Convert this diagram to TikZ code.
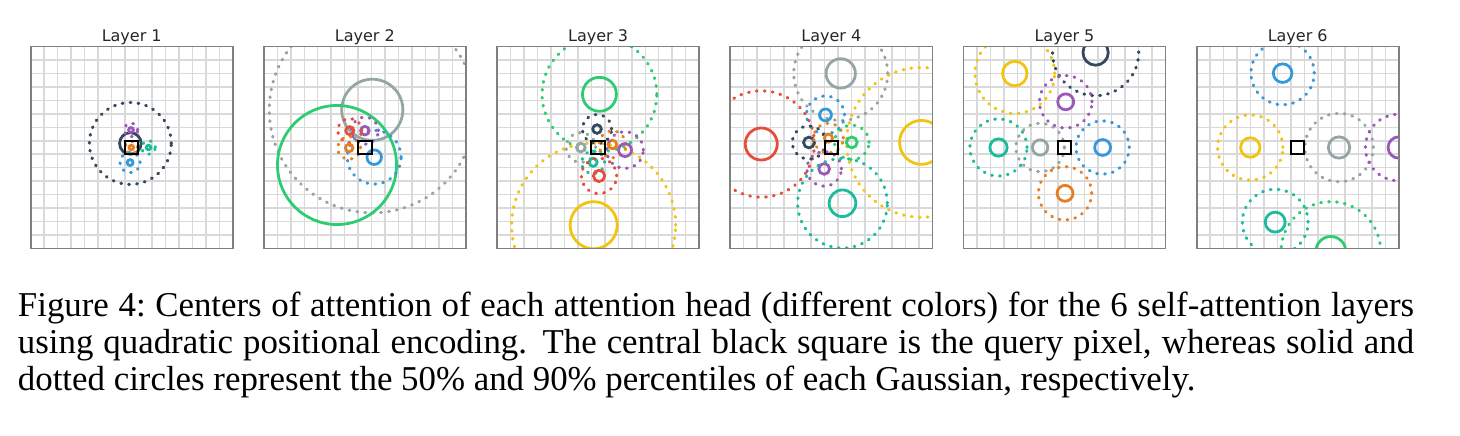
\documentclass[tikz,border=0pt]{standalone}
\usepackage{fontspec}
\setmainfont{Liberation Serif}
\newfontfamily\ttlfont{DejaVu Sans}
\definecolor{cteal}{HTML}{1ABC9C}
\definecolor{cgreen}{HTML}{2ECC71}
\definecolor{cblue}{HTML}{3498DB}
\definecolor{cpurple}{HTML}{9B59B6}
\definecolor{cnavy}{HTML}{34495E}
\definecolor{cyellow}{HTML}{F1C40F}
\definecolor{corange}{HTML}{E67E22}
\definecolor{cred}{HTML}{E74C3C}
\definecolor{cgray}{HTML}{95A5A6}
\tikzset{
  pxsol/.style={line width=0.85pt},
  pxdot/.style={line width=0.95pt, line cap=round, dash pattern=on 0.25pt off 2.18pt},
  gridln/.style={draw=black!15, line width=0.45pt},
  panelframe/.style={draw=black!50, line width=0.5pt},
  querybox/.style={draw=black, line width=0.6pt},
  ttl/.style={font=\ttlfont\fontsize{4.88}{6}\selectfont, text=black!85, inner sep=0pt, anchor=base},
  captxt/.style={font=\fontsize{10.63}{12.7}\selectfont, inner sep=0pt, anchor=base west},
}
\newcommand\gausshead[5]{%
  \draw[pxsol,#1] (#2,#3) circle[radius=#4];
  \draw[pxdot,#1] (#2,#3) circle[radius=#5];}
\newcommand\panelgrid{%
  \foreach \k in {-6.5,-5.5,...,6.5}{%
    \draw[gridln] (\k,-7.5) -- (\k,7.5);
    \draw[gridln] (-7.5,\k) -- (7.5,\k);}}
\begin{document}
\begin{tikzpicture}[x=0.305pt, y=-0.305pt]
\useasboundingbox (0,0) rectangle (1460,436);
% ---------- Layer 1
\begin{scope}[shift={(131.7,147.5)}, x=4.108pt, y=4.108pt]
  \node[ttl] (title1) at (0,7.87) {Layer 1};
  \begin{scope}
    \clip (-7.5,-7.5) rectangle (7.5,7.5);
    \panelgrid
    \gausshead{cnavy}{-0.1}{0.3}{0.8}{3.04}
    \gausshead{cpurple}{-0.05}{1.3}{0.18}{0.5}
    \gausshead{corange}{-0.03}{0.0}{0.17}{0.45}
    \gausshead{cteal}{1.25}{0.0}{0.17}{0.5}
    \gausshead{cblue}{-0.12}{-1.12}{0.22}{0.75}
  \end{scope}
  \draw[querybox] (-0.5,-0.5) rectangle (0.5,0.5);
  \draw[panelframe] (-7.5,-7.5) rectangle (7.5,7.5);
\end{scope}
% ---------- Layer 2
\begin{scope}[shift={(364.9,147.5)}, x=4.108pt, y=4.108pt]
  \node[ttl] (title2) at (0,7.87) {Layer 2};
  \begin{scope}
    \clip (-7.5,-7.5) rectangle (7.5,7.5);
    \panelgrid
    \gausshead{cgray}{0.55}{2.8}{2.27}{7.65}
    \draw[pxsol,cgreen] (-2.07,-1.3) circle[radius=4.42];
    \gausshead{cblue}{0.69}{-0.72}{0.54}{2.0}
    \gausshead{cpurple}{0.0}{1.25}{0.32}{1.0}
    \gausshead{cred}{-1.12}{1.25}{0.3}{0.9}
    \gausshead{corange}{-1.17}{-0.03}{0.28}{0.85}
  \end{scope}
  \draw[querybox] (-0.5,-0.5) rectangle (0.5,0.5);
  \draw[panelframe] (-7.5,-7.5) rectangle (7.5,7.5);
\end{scope}
% ---------- Layer 3
\begin{scope}[shift={(598.1,147.5)}, x=4.108pt, y=4.108pt]
  \node[ttl] (title3) at (0,7.87) {Layer 3};
  \begin{scope}
    \clip (-7.5,-7.5) rectangle (7.5,7.5);
    \panelgrid
    \gausshead{cgreen}{0.1}{3.95}{1.26}{4.26}
    \gausshead{cyellow}{-0.33}{-5.77}{1.75}{6.09}
    \gausshead{cnavy}{-0.08}{1.37}{0.32}{1.08}
    \gausshead{cgray}{-1.28}{0.0}{0.32}{1.1}
    \gausshead{corange}{1.06}{0.23}{0.32}{1.0}
    \gausshead{cpurple}{2.0}{-0.19}{0.48}{1.36}
    \gausshead{cteal}{-0.37}{-1.1}{0.3}{0.85}
    \gausshead{cred}{0.07}{-2.11}{0.42}{1.31}
  \end{scope}
  \draw[querybox] (-0.5,-0.5) rectangle (0.5,0.5);
  \draw[panelframe] (-7.5,-7.5) rectangle (7.5,7.5);
\end{scope}
% ---------- Layer 4
\begin{scope}[shift={(831.3,147.5)}, x=4.108pt, y=4.108pt]
  \node[ttl] (title4) at (0,7.87) {Layer 4};
  \begin{scope}
    \clip (-7.5,-7.5) rectangle (7.5,7.5);
    \panelgrid
    \gausshead{cgray}{0.7}{5.5}{1.09}{3.49}
    \gausshead{cred}{-5.2}{0.26}{1.19}{3.95}
    \gausshead{cyellow}{6.7}{0.38}{1.63}{5.56}
    \gausshead{cblue}{-0.43}{2.42}{0.44}{1.41}
    \gausshead{cnavy}{-1.66}{0.37}{0.4}{1.23}
    \gausshead{corange}{-0.21}{0.7}{0.3}{1.1}
    \gausshead{cgreen}{1.52}{0.38}{0.4}{1.28}
    \gausshead{cpurple}{-0.53}{-1.59}{0.4}{1.28}
    \gausshead{cteal}{0.83}{-4.14}{0.99}{3.33}
  \end{scope}
  \draw[querybox] (-0.5,-0.5) rectangle (0.5,0.5);
  \draw[panelframe] (-7.5,-7.5) rectangle (7.5,7.5);
\end{scope}
% ---------- Layer 5
\begin{scope}[shift={(1064.5,147.5)}, x=4.108pt, y=4.108pt]
  \node[ttl] (title5) at (0,7.87) {Layer 5};
  \begin{scope}
    \clip (-7.5,-7.5) rectangle (7.5,7.5);
    \panelgrid
    \gausshead{cnavy}{2.31}{7.05}{0.94}{3.2}
    \gausshead{cyellow}{-3.69}{5.49}{0.91}{2.96}
    \gausshead{cpurple}{0.09}{3.39}{0.59}{1.95}
    \gausshead{cteal}{-4.9}{0.0}{0.64}{2.12}
    \gausshead{cgray}{-1.81}{0.0}{0.57}{1.8}
    \gausshead{cblue}{2.83}{0.0}{0.59}{1.98}
    \gausshead{corange}{0.04}{-3.4}{0.59}{1.98}
  \end{scope}
  \draw[querybox] (-0.5,-0.5) rectangle (0.5,0.5);
  \draw[panelframe] (-7.5,-7.5) rectangle (7.5,7.5);
\end{scope}
% ---------- Layer 6
\begin{scope}[shift={(1297.7,147.5)}, x=4.108pt, y=4.108pt]
  \node[ttl] (title6) at (0,7.87) {Layer 6};
  \begin{scope}
    \clip (-7.5,-7.5) rectangle (7.5,7.5);
    \panelgrid
    \gausshead{cblue}{-1.12}{5.52}{0.69}{2.35}
    \gausshead{cyellow}{-3.52}{0.0}{0.72}{2.42}
    \gausshead{cgray}{3.07}{0.0}{0.79}{2.54}
    \gausshead{cpurple}{7.5}{0.0}{0.79}{2.47}
    \gausshead{cteal}{-1.67}{-5.54}{0.74}{2.44}
    \gausshead{cgreen}{2.46}{-7.72}{1.11}{3.7}
  \end{scope}
  \draw[querybox] (-0.5,-0.5) rectangle (0.5,0.5);
  \draw[panelframe] (-7.5,-7.5) rectangle (7.5,7.5);
\end{scope}
% ---------- Caption
\node[captxt] (cap1) at (17.3,316.7) {\makebox[425.8pt][s]{Figure 4:\ Centers of attention of each attention head (different colors) for the 6 self-attention layers}};
\node[captxt] (cap2) at (17.3,353.3) {\makebox[425.8pt][s]{using quadratic positional encoding. The central black square is the query pixel, whereas solid and}};
\node[captxt] (cap3) at (17.3,390) {dotted circles represent the 50\% and 90\% percentiles of each Gaussian, respectively.};
\end{tikzpicture}
\end{document}
